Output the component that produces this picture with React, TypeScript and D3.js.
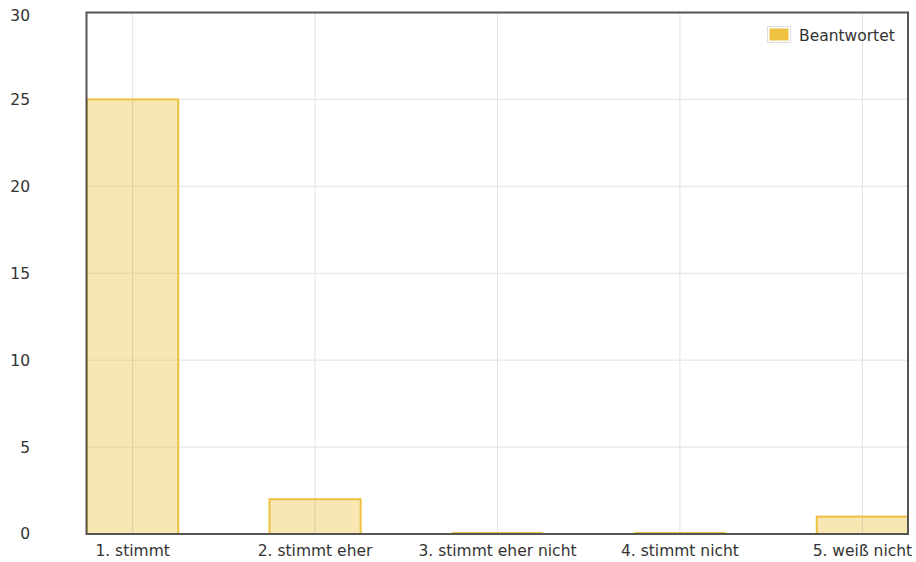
import React from "react";
import * as d3 from "d3";

const categories = ["1. stimmt", "2. stimmt eher", "3. stimmt eher nicht", "4. stimmt nicht", "5. weiß nicht"];
const values = [25, 2, 0, 0, 1];
const yTicks = [0, 5, 10, 15, 20, 25, 30];
const seriesName = "Beantwortet";

export default function App() {
  const W = 916, H = 562;
  const left = 87, right = 908, top = 12.5, bottom = 534;
  const x = d3.scaleLinear().domain([-0.25, categories.length - 0.75]).range([left, right]);
  const y = d3.scaleLinear().domain([0, 30]).range([bottom, top]);
  const font = "'DejaVu Sans', Verdana, sans-serif";
  const fs = 15.5;
  return (
    <svg width={W} height={H} style={{ position: "absolute", left: 0, top: 0 }}>
      <rect width={W} height={H} fill="#fff" />
      {yTicks.map((t) => (
        <line key={"hy" + t} x1={left} x2={right} y1={y(t)} y2={y(t)} stroke="#e2e2e2" strokeWidth={1} />
      ))}
      {categories.map((c, i) => (
        <line key={"vx" + i} x1={x(i)} x2={x(i)} y1={top} y2={bottom} stroke="#e2e2e2" strokeWidth={1} />
      ))}
      {values.map((v, i) =>
        v > 0 ? (
          <rect
            key={"b" + i}
            x={x(i - 0.25)}
            width={x(i + 0.25) - x(i - 0.25)}
            y={y(v)}
            height={y(0) - y(v)}
            fill="rgba(237,194,64,0.4)"
            stroke="#edc240"
            strokeWidth={2}
          />
        ) : (
          <line key={"b" + i} x1={x(i - 0.25)} x2={x(i + 0.25)} y1={y(0) - 1} y2={y(0) - 1} stroke="#edc240" strokeWidth={2} />
        )
      )}
      {values.map((v, i) => (
        <line key={"g" + i} x1={x(i)} x2={x(i)} y1={y(v)} y2={bottom} stroke="rgba(200,200,200,0.35)" strokeWidth={1} />
      ))}
      <rect x={left - 0.5} y={top} width={right - left + 0.5} height={bottom - top} fill="none" stroke="#555" strokeWidth={2} />
      {yTicks.map((t) => (
        <text key={"yl" + t} x={30} y={Math.max(y(t), 16)} dy="0.35em" textAnchor="end" fontFamily={font} fontSize={fs} fill="#333">
          {t}
        </text>
      ))}
      {categories.map((c, i) => (
        <text key={"xl" + i} x={x(i)} y={551} dy="0.35em" textAnchor="middle" fontFamily={font} fontSize={fs} fill="#333">
          {c}
        </text>
      ))}
      <rect x={767.5} y={26.5} width={23} height={16} fill="#fff" stroke="#ddd" strokeWidth={1} />
      <rect x={769.5} y={28.5} width={19} height={12} fill="#edc240" />
      <text x={799} y={36} dy="0.35em" fontFamily={font} fontSize={fs} fill="#333">
        {seriesName}
      </text>
    </svg>
  );
}
